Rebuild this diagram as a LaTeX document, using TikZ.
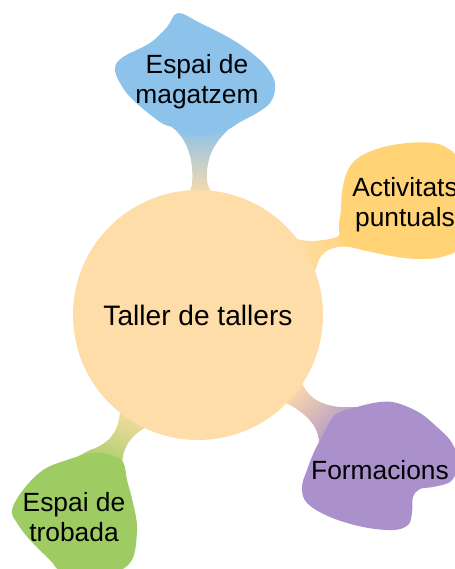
\documentclass[tikz,border=0pt]{standalone}
\usepackage{fontspec}
\setmainfont{Liberation Sans}
\definecolor{peach}{RGB}{255,221,168}
\definecolor{skyb}{RGB}{141,194,234}
\definecolor{gold}{RGB}{255,211,118}
\definecolor{lilac}{RGB}{170,145,204}
\definecolor{leaf}{RGB}{158,204,98}
\tikzset{
  blobtext/.style={align=center, inner sep=0pt, font=\fontsize{15}{17}\selectfont},
  hubtext/.style={inner sep=0pt, font=\fontsize{16}{19}\selectfont},
}
\begin{document}
\begin{tikzpicture}[x=0.02cm,y=-0.02cm]
\useasboundingbox (0,0) rectangle (455,569);
\clip (0,0) rectangle (455,569);
% stems
\path[top color=skyb, bottom color=peach]
  (172,127) .. controls (188,140) and (194,160) .. (192,185)
  .. controls (191,192) and (186,196) .. (180,200) -- (222,200)
  .. controls (214,196) and (208,190) .. (207,180)
  .. controls (206,160) and (212,145) .. (228,130) -- cycle;
\path[top color=peach, bottom color=gold, shading angle=100]
  (285,245) -- (297,239) .. controls (310,243) and (328,240) .. (337,237)
  .. controls (342,234) and (344,226) .. (345,215) -- (365,251)
  .. controls (350,245) and (335,245) .. (325,252)
  .. controls (320,256) and (317,262) .. (316,270) -- (295,265) -- cycle;
\path[top color=peach, bottom color=lilac, shading angle=45]
  (290,375) -- (301,379) .. controls (305,395) and (318,405) .. (340,407)
  -- (360,407) -- (330,440) -- (319,445)
  .. controls (320,430) and (310,415) .. (286,403) -- (280,395) -- cycle;
\path[top color=peach, bottom color=leaf, shading angle=-20]
  (115,400) -- (120,408) .. controls (120,428) and (112,443) .. (90,450)
  -- (75,458) -- (123,475) .. controls (120,455) and (125,438) .. (148,426)
  -- (140,415) -- cycle;
% hub
\node[circle, fill=peach, minimum size=5cm, inner sep=0pt] (hub) at (198,315) {};
\node[hubtext] (hubtxt) at (198,315) {Taller de tallers};
% blobs
\fill[skyb] plot[smooth cycle, tension=0.6] coordinates {
  (178,13) (200,23) (233,40) (260,60) (273,77) (275,90) (270,103) (257,113)
  (240,122) (227,130) (205,136) (185,134) (172,127) (160,122) (133,100)
  (120,83) (115,68) (123,57) (150,43) (167,27)};
\fill[gold] plot[smooth cycle, tension=0.6] coordinates {
  (358,158) (380,148) (407,143) (433,143) (447,148) (458,160) (464,200)
  (460,245) (445,256) (423,259) (397,257) (363,250) (343,243) (339,227)
  (341,210) (342,192) (347,172)};
\fill[lilac] plot[smooth cycle, tension=0.6] coordinates {
  (357,407) (380,402) (397,403) (420,413) (437,427) (450,440) (457,455)
  (457,470) (450,482) (433,487) (420,489) (413,497) (412,513) (408,525)
  (393,530) (363,527) (330,517) (307,503) (302,487) (307,470) (314,452)
  (322,437) (335,415)};
\fill[leaf] plot[smooth cycle, tension=0.6] coordinates {
  (93,453) (67,460) (43,470) (23,490) (12,510) (17,523) (30,540) (50,560)
  (63,572) (100,576) (130,563) (137,530) (133,503) (127,480) (123,462)
  (110,455)};
% labels
\node[blobtext] (store) at (197,82) {Espai de\\magatzem};
\node[blobtext] (acts) at (405,205) {Activitats\\puntuals};
\node[blobtext] (form) at (380,470) {Formacions};
\node[blobtext] (meet) at (74,517) {Espai de\\trobada};
\end{tikzpicture}
\end{document}
